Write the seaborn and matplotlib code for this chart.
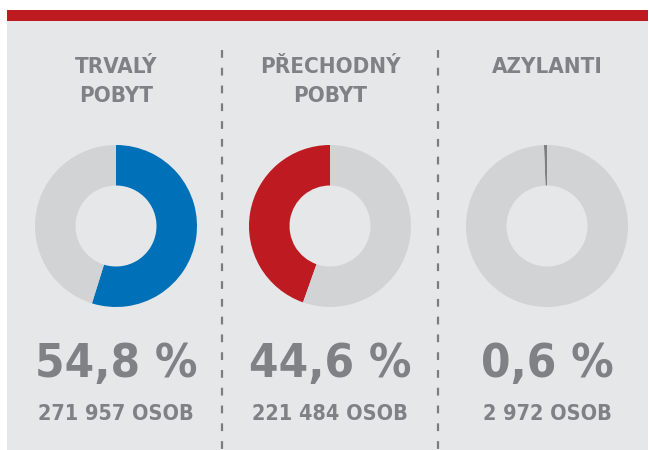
import matplotlib
matplotlib.use("Agg")
import matplotlib.pyplot as plt
import seaborn as sns

# data
titles = ["TRVALÝ\nPOBYT", "PŘECHODNÝ\nPOBYT", "AZYLANTI"]
shares = [54.8, 44.6, 0.6]
pct_labels = ["54,8 %", "44,6 %", "0,6 %"]
count_labels = ["271 957 OSOB", "221 484 OSOB", "2 972 OSOB"]
slice_colors = ["#0070b8", "#be1a21", "#7f7f7f"]
clockwise = [True, False, False]

sns.set_theme(style="white")
plt.rcParams['font.family'] = ['DejaVu Sans']

W, H = 649, 450
fig = plt.figure(figsize=(W / 100, H / 100), dpi=100)
fig.patch.set_facecolor("white")

bg = fig.add_axes([0, 0, 1, 1])
bg.set_xlim(0, W)
bg.set_ylim(H, 0)
bg.axis("off")
bg.add_patch(plt.Rectangle((7, 21), W - 8, H - 21, color="#e6e7e8", lw=0))
bg.add_patch(plt.Rectangle((7, 10), W - 8, 11, color="#be1a21", lw=0))
for x in [222, 438]:
    bg.plot([x, x], [50, H], ls=(0, (3.5, 4.5)), color="#7d7d7d", lw=1.6)

grey = "#808184"
txt = dict(ha="center", va="baseline", fontweight="bold", color=grey,
           fontstretch="condensed")
centers = [116, 330, 547]
cy = 226
r = 81
for cx, title, share, pct, cnt, col, cw in zip(centers, titles, shares, pct_labels,
                                               count_labels, slice_colors, clockwise):
    ax = fig.add_axes([(cx - r) / W, 1 - (cy + r) / H, 2 * r / W, 2 * r / H])
    ax.pie([share, 100 - share], colors=[col, "#d2d3d5"], startangle=90,
           counterclock=not cw, radius=1.0,
           wedgeprops=dict(width=0.5, edgecolor="none"))
    ax.set_xlim(-1, 1)
    ax.set_ylim(-1, 1)
    ax.set_aspect("equal")
    ax.axis("off")

    for i, line in enumerate(title.split("\n")):
        bg.text(cx, 73 + 29 * i, line, fontsize=16, **txt)
    bg.text(cx, 377, pct, fontsize=34, **txt)
    bg.text(cx, 420, cnt, fontsize=15.5, **txt)

fig.savefig("out.png", dpi=100)
